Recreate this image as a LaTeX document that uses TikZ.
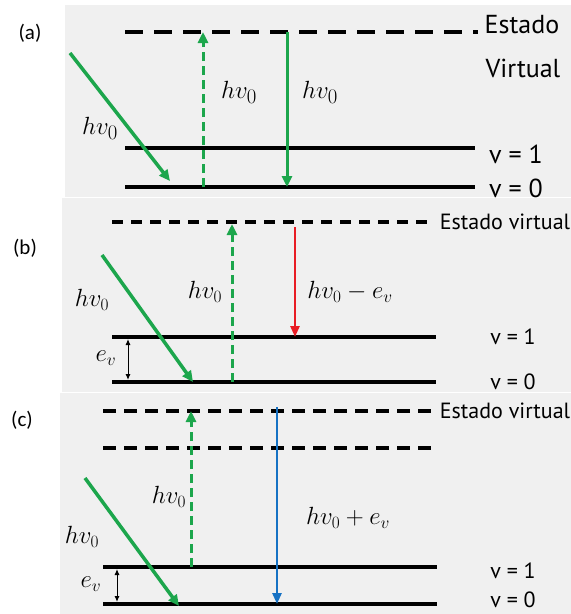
\documentclass[tikz,border=0pt]{standalone}
\usepackage{fontspec}
\setmainfont{Carlito}
\newfontfamily\gill{PT Sans}
\usetikzlibrary{arrows.meta}
\definecolor{bgpanel}{RGB}{240,240,240}
\definecolor{ramang}{RGB}{28,166,76}
\definecolor{ramred}{RGB}{232,28,36}
\definecolor{ramblue}{RGB}{22,114,196}
\tikzset{
  panel/.style={fill=bgpanel,draw=none},
  level/.style={line width=4pt},
  virtA/.style={line width=4.5pt,dash pattern=on 18pt off 11pt},
  virtB/.style={line width=4pt,dash pattern=on 11pt off 8pt},
  virtC/.style={line width=4pt,dash pattern=on 13pt off 8pt},
  photon/.style={ramang,line width=3.5pt,-{Triangle[length=11pt,width=10pt]}},
  virtphoton/.style={ramang,line width=3pt,dash pattern=on 9pt off 5pt,-{Triangle[length=11pt,width=10pt]}},
  scat/.style={line width=2.6pt,-{Triangle[length=11pt,width=9pt]}},
  gap/.style={line width=1pt,{Latex[length=6pt,width=5pt]}-{Latex[length=6pt,width=5pt]}},
  tag/.style={font=\fontsize{21}{25}\selectfont,inner sep=0pt},
  statebig/.style={font=\gill\fontsize{26}{30}\selectfont,inner sep=0pt},
  statesm/.style={font=\gill\fontsize{22}{26}\selectfont,inner sep=0pt},
  mathA/.style={font=\fontsize{32}{36}\selectfont,inner sep=0pt},
  mathB/.style={font=\fontsize{24}{28}\selectfont,inner sep=0pt}
}
\begin{document}
\begin{tikzpicture}[x=1pt,y=-1pt]
\useasboundingbox (0,0) rectangle (571,614);
\fill[white] (0,0) rectangle (571,614);
% panels
\path[panel] (65,5) rectangle (571,197);
\path[panel] (62,198) rectangle (571,392);
\path[panel] (60,393) rectangle (571,614);

% ---------------- (a)
\node[tag] (ta) at (30,33) {(a)};
\coordinate (aV1) at (125,32); \coordinate (aV2) at (478,32);
\coordinate (a11) at (125,148); \coordinate (a12) at (475,148);
\coordinate (a01) at (125,187); \coordinate (a02) at (475,187);
\draw[virtA] (aV1) -- (aV2);
\draw[level] (a11) -- (a12);
\draw[level] (a01) -- (a02);
\node[statebig] (aE) at (522,25) {Estado};
\node[statebig] (aVt) at (523,68) {Virtual};
\node[statebig] (aL1) at (516,154) {v = 1};
\node[statebig] (aL0) at (516,188) {v = 0};
\coordinate (adS) at (70,53); \coordinate (adE) at (170,181);
\draw[photon] (adS) -- (adE);
\node[mathA] (adL) at (100,128) {$hv_0$};
\coordinate (auS) at (203,187); \coordinate (auE) at (203,32);
\draw[virtphoton] (auS) -- (auE);
\node[mathA] (auL) at (239,92) {$hv_0$};
\coordinate (asS) at (287,32); \coordinate (asE) at (287,187);
\draw[photon,line width=3pt] (asS) -- (asE);
\node[mathA] (asL) at (320,92) {$hv_0$};

% ---------------- (b)
\node[tag] (tb) at (25,248) {(b)};
\coordinate (bV1) at (112,222); \coordinate (bV2) at (430,222);
\coordinate (b11) at (112,337); \coordinate (b12) at (436,337);
\coordinate (b01) at (112,382); \coordinate (b02) at (436,382);
\draw[virtB] (bV1) -- (bV2);
\draw[level] (b11) -- (b12);
\draw[level] (b01) -- (b02);
\node[statesm] (bE) at (505,222) {Estado virtual};
\node[statesm] (bL1) at (513,337) {v = 1};
\node[statesm] (bL0) at (513,382) {v = 0};
\coordinate (bdS) at (102,255); \coordinate (bdE) at (193,382);
\draw[photon] (bdS) -- (bdE);
\node[mathB] (bdL) at (92,300) {$hv_0$};
\coordinate (buS) at (232,382); \coordinate (buE) at (232,224);
\draw[virtphoton] (buS) -- (buE);
\node[mathB] (buL) at (205,292) {$hv_0$};
\coordinate (brS) at (295,227); \coordinate (brE) at (295,337);
\draw[scat,ramred] (brS) -- (brE);
\node[mathB] (brL) at (350,292) {$hv_0-e_v$};
\coordinate (bgT) at (128,339); \coordinate (bgB) at (128,380);
\draw[gap] (bgT) -- (bgB);
\node[mathB] (bgL) at (106,358) {$e_v$};

% ---------------- (c)
\node[tag] (tc) at (22,420) {(c)};
\coordinate (cV1) at (103,411); \coordinate (cV2) at (433,411);
\coordinate (cW1) at (103,448); \coordinate (cW2) at (433,448);
\coordinate (c11) at (103,567); \coordinate (c12) at (437,567);
\coordinate (c01) at (103,604); \coordinate (c02) at (437,604);
\draw[virtC] (cV1) -- (cV2);
\draw[virtC] (cW1) -- (cW2);
\draw[level] (c11) -- (c12);
\draw[level] (c01) -- (c02);
\node[statesm] (cE) at (505,411) {Estado virtual};
\node[statesm] (cL1) at (513,571) {v = 1};
\node[statesm] (cL0) at (513,600) {v = 0};
\coordinate (cdS) at (85,478); \coordinate (cdE) at (179,606);
\draw[photon] (cdS) -- (cdE);
\node[mathB] (cdL) at (82,537) {$hv_0$};
\coordinate (cuS) at (191,567); \coordinate (cuE) at (191,411);
\draw[virtphoton] (cuS) -- (cuE);
\node[mathB] (cuL) at (169,497) {$hv_0$};
\coordinate (cbS) at (277,407); \coordinate (cbE) at (277,604);
\draw[scat,ramblue] (cbS) -- (cbE);
\node[mathB] (cbL) at (348,518) {$hv_0+e_v$};
\coordinate (cgT) at (117,569); \coordinate (cgB) at (117,602);
\draw[gap] (cgT) -- (cgB);
\node[mathB] (cgL) at (91,584) {$e_v$};
\end{tikzpicture}
\end{document}
